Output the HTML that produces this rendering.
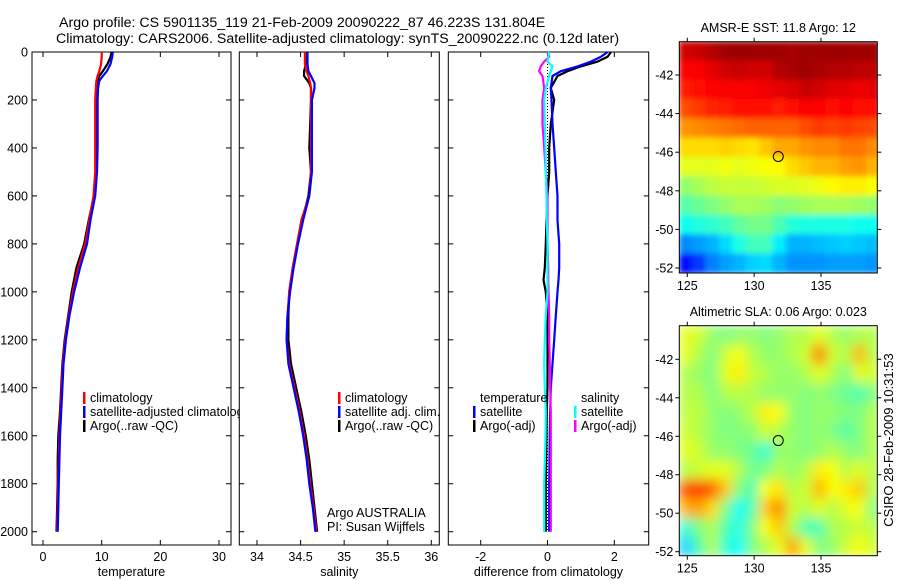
<!DOCTYPE html>
<html><head><meta charset="utf-8">
<style>
html,body{margin:0;padding:0;background:#fff;}
svg{display:block;font-family:"Liberation Sans",sans-serif;}
</style></head>
<body>
<svg id="fig" width="900" height="580" viewBox="0 0 900 580">
<defs>
<filter id="blur1" x="0" y="0" width="1" height="1"><feGaussianBlur stdDeviation="3" edgeMode="duplicate"/></filter>
<filter id="blur2" x="0" y="0" width="1" height="1"><feGaussianBlur stdDeviation="6" edgeMode="duplicate"/></filter>
<clipPath id="clipM1"><rect x="679.3" y="41.7" width="198" height="231.3"/></clipPath>
<clipPath id="clipM2"><rect x="679.3" y="325.7" width="198" height="230"/></clipPath>
</defs>
<text x="59" y="27" font-size="14.2">Argo profile: CS 5901135_119 21-Feb-2009 20090222_87 46.223S 131.804E</text>
<text x="56" y="43" font-size="14.2">Climatology: CARS2006. Satellite-adjusted climatology: synTS_20090222.nc (0.12d later)</text>
<g id="g1"></g>
<g id="g2"></g>
<g id="g3"></g>
<g id="m1"></g>
<g id="m2"></g>
<text x="893" y="440" font-size="13" text-anchor="middle" transform="rotate(-90 893 440)">CSIRO 28-Feb-2009 10:31:53</text>
</svg>
<script>
// ---- profile data ----
const depthT = [0,20,50,80,100,120,150,200,300,400,500,600,700,800,900,1000,1100,1200,1300,1400,1500,1600,1700,1800,1900,2000];
const tempClim = [10,10,9.9,9.6,9.3,9.1,9.0,8.9,8.9,8.9,8.9,8.6,7.9,7.2,6.0,5.1,4.4,3.8,3.4,3.2,3.0,2.8,2.7,2.6,2.5,2.4];
const tempSat = [11.9,11.8,11.5,10.9,10.2,9.6,9.4,9.3,9.3,9.3,9.2,8.9,8.1,7.5,6.3,5.3,4.5,3.9,3.5,3.3,3.1,2.9,2.8,2.7,2.6,2.5];
const tempArgo = [11.7,11.5,11.0,10.2,9.6,9.3,9.2,9.1,9.2,9.1,9.1,8.7,7.8,7.0,5.7,4.9,4.3,3.7,3.3,3.1,2.9,2.6,2.5,2.5,2.4,2.3];
const depthS = [0,50,80,100,130,150,200,300,400,500,600,700,800,900,1000,1100,1200,1300,1400,1500,1600,1700,1800,1900,2000];
const salClim = [34.55,34.55,34.57,34.59,34.61,34.62,34.62,34.62,34.62,34.62,34.60,34.51,34.46,34.41,34.37,34.35,34.34,34.37,34.43,34.49,34.54,34.58,34.61,34.65,34.68];
const salSat = [34.58,34.58,34.59,34.62,34.66,34.66,34.63,34.63,34.63,34.63,34.60,34.53,34.47,34.42,34.38,34.35,34.34,34.36,34.42,34.48,34.53,34.57,34.60,34.64,34.67];
const salArgo = [34.57,34.56,34.54,34.54,34.60,34.62,34.62,34.61,34.60,34.62,34.59,34.52,34.46,34.41,34.37,34.36,34.36,34.39,34.45,34.51,34.56,34.60,34.63,34.66,34.69];
const depthD = [0,20,40,60,80,100,150,200,300,400,500,600,700,800,900,950,1000,1100,1200,1300,1400,1500,1600,1700,1800,1900,2000];
const dTempSat = [1.8,1.6,1.3,0.9,0.4,0.15,0.1,0.12,0.15,0.2,0.25,0.3,0.3,0.35,0.35,0.33,0.3,0.25,0.2,0.15,0.1,0.08,0.07,0.06,0.05,0.05,0.05];
const dTempArgo = [1.9,1.8,1.5,1.0,0.6,0.3,0.1,0.2,0.1,0.05,0.05,0.0,-0.03,-0.05,-0.08,-0.12,-0.05,0.0,0.0,0.0,0.0,-0.02,-0.03,-0.04,-0.05,-0.05,-0.05];
const dSalSat = [0.05,0.02,0.0,0.15,0.1,0.05,-0.05,-0.1,-0.08,-0.06,-0.05,-0.03,-0.02,0.0,0.0,0.0,0.0,-0.05,-0.08,-0.1,-0.08,-0.05,-0.06,-0.08,-0.1,-0.1,-0.1];
const dSalArgo = [0.0,0.05,-0.1,-0.2,-0.25,-0.15,-0.1,-0.15,-0.15,-0.1,-0.05,0.0,0.0,0.0,0.02,0.02,0.03,0.05,0.05,0.07,0.08,0.1,0.1,0.1,0.1,0.1,0.1];
const tempTicks = [0,10,20,30];
const salTicks = [34,34.5,35,35.5,36];
const salTickLabels = ["34","34.5","35","35.5","36"];
const diffTicks = [-2,0,2];
const depthTicks = [0,200,400,600,800,1000,1200,1400,1600,1800,2000];
// ---- map data (jet colormap fraction 0..1), rows north->south, 1deg cells ----
const mapLon0 = 124.4, mapLat0 = -40.27;
const sstGrid = [
[0.92,0.93,0.95,0.97,0.97,0.97,0.97,0.97,0.96,0.97,0.97,0.97,0.97,0.97,0.97],
[0.88,0.88,0.9,0.92,0.93,0.92,0.92,0.95,0.96,0.97,0.96,0.95,0.95,0.94,0.94],
[0.85,0.86,0.87,0.88,0.88,0.88,0.89,0.9,0.91,0.93,0.92,0.9,0.9,0.89,0.9],
[0.8,0.82,0.84,0.85,0.86,0.86,0.86,0.85,0.86,0.88,0.87,0.86,0.87,0.86,0.86],
[0.73,0.74,0.75,0.76,0.77,0.78,0.78,0.78,0.78,0.8,0.82,0.81,0.82,0.81,0.8],
[0.66,0.66,0.66,0.67,0.66,0.65,0.68,0.71,0.71,0.73,0.74,0.74,0.76,0.76,0.74],
[0.6,0.6,0.6,0.61,0.6,0.61,0.62,0.63,0.66,0.68,0.7,0.7,0.72,0.73,0.7],
[0.52,0.54,0.56,0.57,0.57,0.57,0.58,0.59,0.59,0.6,0.61,0.63,0.64,0.64,0.62],
[0.46,0.48,0.5,0.52,0.54,0.54,0.53,0.51,0.52,0.53,0.54,0.54,0.54,0.53,0.52],
[0.39,0.41,0.42,0.44,0.47,0.49,0.49,0.45,0.41,0.4,0.4,0.4,0.4,0.39,0.39],
[0.26,0.28,0.3,0.34,0.4,0.44,0.44,0.36,0.3,0.3,0.31,0.32,0.33,0.32,0.31],
[0.14,0.18,0.25,0.28,0.3,0.33,0.34,0.3,0.27,0.27,0.27,0.28,0.28,0.28,0.27]];
const slaGrid = [
[0.6,0.58,0.52,0.5,0.52,0.52,0.5,0.52,0.55,0.55,0.6,0.55,0.52,0.55,0.55],
[0.6,0.55,0.5,0.58,0.62,0.55,0.52,0.52,0.55,0.58,0.76,0.58,0.55,0.7,0.55],
[0.55,0.52,0.5,0.6,0.64,0.57,0.55,0.52,0.52,0.55,0.6,0.55,0.5,0.6,0.58],
[0.55,0.55,0.5,0.55,0.56,0.55,0.52,0.52,0.52,0.5,0.52,0.5,0.48,0.45,0.5],
[0.56,0.56,0.52,0.5,0.52,0.56,0.64,0.62,0.52,0.5,0.52,0.52,0.5,0.5,0.55],
[0.58,0.55,0.52,0.5,0.5,0.52,0.58,0.55,0.52,0.5,0.52,0.5,0.46,0.5,0.55],
[0.6,0.58,0.52,0.52,0.5,0.48,0.42,0.52,0.52,0.5,0.52,0.55,0.52,0.5,0.55],
[0.55,0.58,0.6,0.6,0.55,0.48,0.5,0.55,0.52,0.55,0.64,0.62,0.55,0.6,0.55],
[0.8,0.82,0.78,0.68,0.5,0.45,0.62,0.65,0.55,0.58,0.7,0.62,0.64,0.68,0.55],
[0.7,0.72,0.66,0.5,0.38,0.45,0.68,0.74,0.58,0.55,0.6,0.55,0.6,0.62,0.5],
[0.42,0.5,0.55,0.45,0.4,0.5,0.62,0.68,0.55,0.45,0.45,0.55,0.55,0.58,0.55],
[0.33,0.45,0.55,0.42,0.38,0.5,0.55,0.6,0.72,0.6,0.5,0.52,0.58,0.62,0.58]];
const argoLon = 131.804, argoLat = -46.223;
const lonTicks = [125,130,135];
const latTicks = [-42,-44,-46,-48,-50,-52];

const NS = "http://www.w3.org/2000/svg";
function mk(parent, tag, attrs){ const e=document.createElementNS(NS,tag); for(const k in attrs) e.setAttribute(k,attrs[k]); parent.appendChild(e); return e; }
function lin(d0,d1,r0,r1){ return v => r0 + (v-d0)/(d1-d0)*(r1-r0); }
const yDepth = lin(0,2000,52,531.7);
const PT=52, PB=545;

function panel(g, x0, x1, xs, ticks, labels, xlabel, showY, nameBase){
  const r = mk(g,'rect',{x:x0,y:PT,width:x1-x0,height:PB-PT,fill:'#fff',stroke:'#000','stroke-width':1});
  
  
  ticks.forEach((t,i)=>{
    const x=xs(t);
    mk(g,'line',{x1:x,x2:x,y1:PB,y2:PB-5,stroke:'#000'});
    mk(g,'line',{x1:x,x2:x,y1:PT,y2:PT+5,stroke:'#000'});
    const tx = mk(g,'text',{x:x,y:PB+16,'font-size':12.5,'text-anchor':'middle'});
    tx.textContent = labels[i];
    
    
  });
  depthTicks.forEach(d=>{
    const y=yDepth(d);
    mk(g,'line',{x1:x0,x2:x0+5,y1:y,y2:y,stroke:'#000'});
    mk(g,'line',{x1:x1,x2:x1-5,y1:y,y2:y,stroke:'#000'});
    if(showY){
      const tx=mk(g,'text',{x:x0-4,y:y+4.5,'font-size':12.5,'text-anchor':'end'});
      tx.textContent=String(d);
      
      
    }
  });
  const xl = mk(g,'text',{x:(x0+x1)/2,y:576,'font-size':12.5,'text-anchor':'middle'});
  xl.textContent = xlabel;
  
  
}
function series(g, xs, depths, vals, color, name){
  const pts = depths.map((d,i)=> xs(vals[i]).toFixed(1)+','+yDepth(d).toFixed(1)).join(' ');
  const p = mk(g,'polyline',{points:pts,fill:'none',stroke:color,'stroke-width':2.2,'stroke-linejoin':'miter'});
  
  
}
function legend(g, x, y, color, text, name){
  if(color) mk(g,'rect',{x:x,y:y-10,width:2.5,height:12,fill:color});
  const t = mk(g,'text',{x:x+7,y:y,'font-size':12.5});
  t.textContent = text;
  
  
}

// Panel 1 temperature
const g1=document.getElementById('g1');
const xT = lin(0,30,43,219);
panel(g1,32,231,xT,tempTicks,tempTicks.map(String),'temperature',true,'temperature');
series(g1,xT,depthT,tempArgo,'#000','temp-argo-line');
series(g1,xT,depthT,tempClim,'#f00','temp-climatology-line');
series(g1,xT,depthT,tempSat,'#00f','temp-satellite-line');
legend(g1,83,402,'#f00','climatology','legend-climatology');
legend(g1,83,416,'#00f','satellite-adjusted climatology','legend-satellite-adjusted');
legend(g1,83,430,'#000','Argo(..raw -QC)','legend-argo');

// Panel 2 salinity
const g2=document.getElementById('g2');
const xS = lin(34,36,257,431.3);
panel(g2,239.3,439.3,xS,salTicks,salTickLabels,'salinity',false,'salinity');
series(g2,xS,depthS,salArgo,'#000','sal-argo-line');
series(g2,xS,depthS,salClim,'#f00','sal-climatology-line');
series(g2,xS,depthS,salSat,'#00f','sal-satellite-line');
legend(g2,338,402,'#f00','climatology','legend-sal-climatology');
legend(g2,338,416,'#00f','satellite adj. clim.','legend-sal-satellite');
legend(g2,338,430,'#000','Argo(..raw -QC)','legend-sal-argo');
legend(g2,320,517,null,'Argo AUSTRALIA','argo-australia-label');
legend(g2,320,531,null,'PI: Susan Wijffels','pi-label');

// Panel 3 differences
const g3=document.getElementById('g3');
const xD = lin(-2,2,480.7,614.3);
panel(g3,448.3,648.7,xD,diffTicks,diffTicks.map(String),'difference from climatology',false,'difference');
mk(g3,'line',{x1:xD(0),x2:xD(0),y1:PT,y2:yDepth(2000),stroke:'#000','stroke-dasharray':'1,2','stroke-width':1});
series(g3,xD,depthD,dTempArgo,'#000','diff-temp-argo-line');
series(g3,xD,depthD,dTempSat,'#00f','diff-temp-satellite-line');
series(g3,xD,depthD,dSalArgo,'#f0f','diff-sal-argo-line');
series(g3,xD,depthD,dSalSat,'#0ff','diff-sal-satellite-line');
legend(g3,473,402,null,'temperature','legend-temperature-header');
legend(g3,473,416,'#00f','satellite','legend-temp-satellite');
legend(g3,473,430,'#000','Argo(-adj)','legend-temp-argo');
legend(g3,574,402,null,'salinity','legend-salinity-header');
legend(g3,574,416,'#0ff','satellite','legend-sal-satellite-diff');
legend(g3,574,430,'#f0f','Argo(-adj)','legend-sal-argo-diff');

// jet colormap
function jet(v){
  v=Math.max(0,Math.min(1,v));
  const c = x => Math.round(255*Math.max(0,Math.min(1,x)));
  const r = c(1.5-Math.abs(4*v-3)), g = c(1.5-Math.abs(4*v-2)), b = c(1.5-Math.abs(4*v-1));
  return `rgb(${r},${g},${b})`;
}
function map(id, top, bottom, grid, blurId, title, titleY, clipId, nameBase){
  const g=document.getElementById(id);
  const L=679.3, R=877.3;
  const xL = lin(125,135,687.3,821);
  const yL = lin(-42,-52, top===41.7?75:359.3, top===41.7?268:551.7);
  const cells = mk(g,'g',{'clip-path':'url(#'+clipId+')'});
  const inner = mk(cells,'g',{filter:'url(#'+blurId+')'});
  grid.forEach((row,ri)=>row.forEach((v,ci)=>{
    const x=xL(mapLon0+ci), y=yL(mapLat0-ri);
    const rc = mk(inner,'rect',{x:x-0.5,y:y-0.5,width:xL(mapLon0+ci+1)-x+1,height:yL(mapLat0-ri-1)-y+1,fill:jet(v)});
    
    
  }));
  mk(g,'rect',{x:L,y:top,width:R-L,height:bottom-top,fill:'none',stroke:'#000'});
  const c = mk(g,'circle',{cx:xL(argoLon),cy:yL(argoLat),r:5,fill:'none',stroke:'#000','stroke-width':1});
  
  
  lonTicks.forEach(t=>{
    const x=xL(t);
    mk(g,'line',{x1:x,x2:x,y1:bottom,y2:bottom+4,stroke:'#000'});
    mk(g,'line',{x1:x,x2:x,y1:top,y2:top-4,stroke:'#000'});
    const tx=mk(g,'text',{x:x,y:bottom+17,'font-size':12.5,'text-anchor':'middle'});
    tx.textContent=String(t);
    
    
  });
  latTicks.forEach(t=>{
    const y=yL(t);
    mk(g,'line',{x1:L,x2:L-4,y1:y,y2:y,stroke:'#000'});
    mk(g,'line',{x1:R,x2:R+4,y1:y,y2:y,stroke:'#000'});
    const tx=mk(g,'text',{x:L-6,y:y+4.5,'font-size':12.5,'text-anchor':'end'});
    tx.textContent=String(t);
    
    
  });
  const tt=mk(g,'text',{x:(L+R)/2,y:titleY,'font-size':12.5,'text-anchor':'middle'});
  tt.textContent=title;
  
  
}
map('m1',41.7,273,sstGrid,'blur1','AMSR-E SST: 11.8  Argo: 12',32,'clipM1','sst-map');
map('m2',325.7,555.7,slaGrid,'blur2','Altimetric SLA: 0.06  Argo: 0.023',316,'clipM2','sla-map');
</script>
</body></html>
